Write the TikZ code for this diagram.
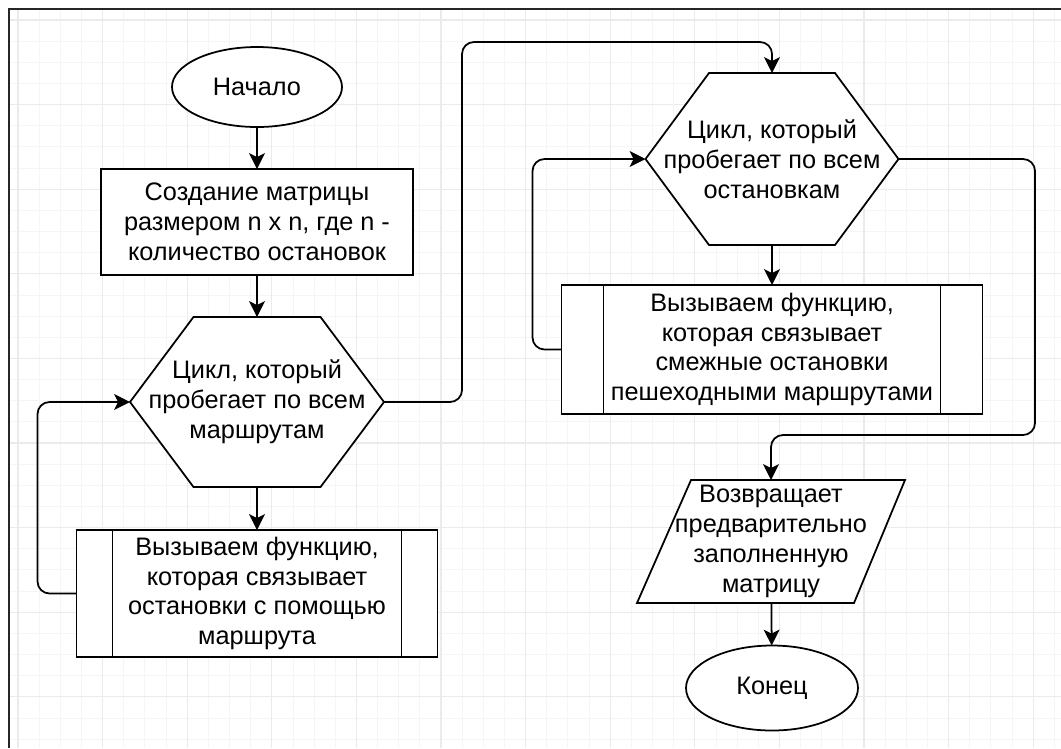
\documentclass[tikz,border=0pt]{standalone}
\usepackage{fontspec}
\setmainfont{Liberation Sans}
\usetikzlibrary{shapes.geometric,arrows.meta,backgrounds}

\tikzset{
  flowline/.style={line width=1pt, draw=black},
  arrow/.style={flowline, -{Stealth[length=9pt,width=9pt,inset=2.2pt]}, rounded corners=2.4mm},
  block/.style 2 args={rectangle, inner sep=0pt, outer sep=0pt,
    minimum width=#1*0.2mm, minimum height=#2*0.2mm, align=center,
    font=\fontsize{14.4}{17}\selectfont},
  proc/.style 2 args={block={#1}{#2}, flowline, fill=white},
  oval/.style 2 args={block={#1}{#2}, ellipse, flowline, fill=white},
  gridminor/.style={line width=0.5pt, black!4},
  gridmajor/.style={line width=0.7pt, black!8},
}

\begin{document}
\begin{tikzpicture}[x=0.2mm, y=-0.2mm]
  \useasboundingbox (0,0) rectangle (1061,748);
  % Page background with the grid
  \begin{scope}[on background layer]
    \fill[white] (0,0) rectangle (1061,748);
    \foreach \i in {0,...,49}
      \draw[gridminor] ({18+21.15*\i},9) -- ({18+21.15*\i},748);
    \foreach \i in {0,...,34}
      \draw[gridminor] (9,{20+21.15*\i}) -- (1061,{20+21.15*\i});
    \foreach \i in {0,...,12}
      \draw[gridmajor] ({18+84.6*\i},9) -- ({18+84.6*\i},748);
    \foreach \i in {0,...,8}
      \draw[gridmajor] (9,{20+84.6*\i}) -- (1061,{20+84.6*\i});
  \end{scope}
  \draw[line width=0.8pt, black!85] (9,748) -- (9,9) -- (1061,9); % Page edge

  % Left column
  \node[oval={170}{80}] (start) at (257,87) {Начало};
  \node[proc={312}{106}] (create) at (257,222) {Создание матрицы\\размером n x n, где n -\\количество остановок};
  \node[block={254}{170}] (loop1) at (257,402) {Цикл, который\\пробегает по всем\\маршрутам};
  \node[proc={361}{127}] (call1) at (257,593.5) {Вызываем функцию,\\которая связывает\\остановки с помощью\\маршрута};

  % Right column
  \node[block={253}{172}] (loop2) at (772,159) {Цикл, который\\пробегает по всем\\остановкам};
  \node[proc={421}{129}] (call2) at (772,349.5) {Вызываем функцию,\\которая связывает\\смежные остановки\\пешеходными маршрутами};
  \node[block={268}{123}] (ret) at (771,541.5) {Возвращает\\предварительно\\заполненную\\матрицу};
  \node[oval={172}{85}] (stop) at (772,688) {Конец};

  % Outlines of the loops and the output block
  \begin{scope}[on background layer]
    \foreach \n in {loop1,loop2}
      \filldraw[flowline, fill=white] (\n.west) -- ([xshift=12.7mm]\n.north west)
        -- ([xshift=-12.7mm]\n.north east) -- (\n.east)
        -- ([xshift=-12.7mm]\n.south east) -- ([xshift=12.7mm]\n.south west) -- cycle;
    \filldraw[flowline, fill=white] ([xshift=10.8mm]ret.north west) -- (ret.north east)
      -- ([xshift=-10.2mm]ret.south east) -- (ret.south west) -- cycle;
  \end{scope}

  % Side bars of the subroutine blocks
  \draw[flowline] ([xshift=7.2mm]call1.north west) -- ([xshift=7.2mm]call1.south west);
  \draw[flowline] ([xshift=-7.2mm]call1.north east) -- ([xshift=-7.2mm]call1.south east);
  \draw[flowline] ([xshift=8.4mm]call2.north west) -- ([xshift=8.4mm]call2.south west);
  \draw[flowline] ([xshift=-8.4mm]call2.north east) -- ([xshift=-8.4mm]call2.south east);

  % Connectors
  \draw[arrow] (start) -- (create);
  \draw[arrow] (create) -- (loop1);
  \draw[arrow] (loop1) -- (call1);
  \draw[arrow] (call1.west) -- ++(-39,0) |- (loop1.west); % back to the loop
  \draw[arrow] (loop1.east) -| (462,42) -| (loop2.north);
  \draw[arrow] (loop2) -- (call2);
  \draw[arrow] (call2.west) -- ++(-29,0) |- (loop2.west); % back to the loop
  \draw[arrow] (loop2.east) -| (1035,435) -| (ret.north);
  \draw[arrow] (ret) -- (stop);
\end{tikzpicture}
\end{document}
